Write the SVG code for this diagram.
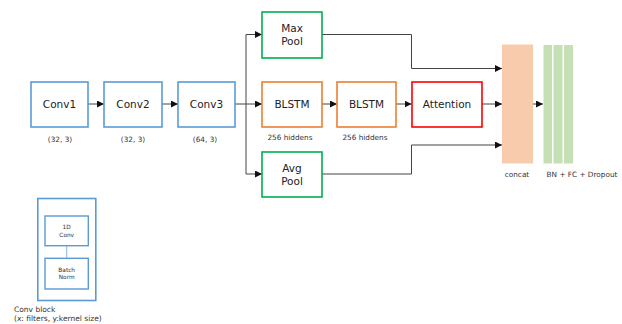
<svg xmlns="http://www.w3.org/2000/svg" width="622" height="324" viewBox="0 0 622 324">
  <style>
    text { font-family: "DejaVu Sans", Verdana, sans-serif; fill: #222; }
    .lbl { font-size: 10.5px; text-anchor: middle; }
    .sm { font-size: 7.3px; text-anchor: middle; fill: #333; }
    .tiny { font-size: 5.8px; text-anchor: middle; fill: #333; }
    .cap { font-size: 7.5px; fill: #333; }
    .box { fill: #fff; stroke-width: 1.6; }
    .blue { stroke: #5B9BD5; }
    .orange { stroke: #ED7D31; }
    .green { stroke: #00B050; }
    .red { stroke: #FF0000; }
    .wire { fill: none; stroke: #444; stroke-width: 1; }
  </style>
  <defs>
    <marker id="arr" viewBox="0 0 10 10" refX="10" refY="5" markerWidth="7" markerHeight="7" markerUnits="userSpaceOnUse" orient="auto">
      <path d="M0,0 L10,5 L0,10 z" fill="#111"/>
    </marker>
  </defs>
  <rect width="622" height="324" fill="#fff"/>

  <g id="connectors">
    <path class="wire" d="M88,104 H104" marker-end="url(#arr)"/>
    <path class="wire" d="M162,104 H178" marker-end="url(#arr)"/>
    <path class="wire" d="M235,104 H262" marker-end="url(#arr)"/>
    <path class="wire" d="M246,174 V34.5 H262" marker-end="url(#arr)"/>
    <path class="wire" d="M246,174 H262" marker-end="url(#arr)"/>
    <path class="wire" d="M322,104 H337" marker-end="url(#arr)"/>
    <path class="wire" d="M396,104 H411.5" marker-end="url(#arr)"/>
    <path class="wire" d="M482,104 H502" marker-end="url(#arr)"/>
    <path class="wire" d="M322,34.5 H411.5 V68.5 H502" marker-end="url(#arr)"/>
    <path class="wire" d="M322,174 H411.5 V145 H502" marker-end="url(#arr)"/>
    <path class="wire" d="M533,104 H543" marker-end="url(#arr)"/>
  </g>

  <g id="conv1">
    <rect class="box blue" x="31" y="82" width="57" height="45"/>
    <text class="lbl" x="59.5" y="108">Conv1</text>
    <text class="sm" x="60" y="142">(32, 3)</text>
  </g>
  <g id="conv2">
    <rect class="box blue" x="104" y="82" width="58" height="45"/>
    <text class="lbl" x="133" y="108">Conv2</text>
    <text class="sm" x="133" y="142">(32, 3)</text>
  </g>
  <g id="conv3">
    <rect class="box blue" x="178" y="82" width="57" height="45"/>
    <text class="lbl" x="206.5" y="108">Conv3</text>
    <text class="sm" x="205" y="142">(64, 3)</text>
  </g>

  <g id="maxpool">
    <rect class="box green" x="262" y="12" width="60" height="46"/>
    <text class="lbl" x="292" y="32">Max</text>
    <text class="lbl" x="292" y="45">Pool</text>
  </g>
  <g id="blstm1">
    <rect class="box orange" x="262" y="82" width="60" height="45"/>
    <text class="lbl" x="292" y="108">BLSTM</text>
    <text class="sm" x="290" y="139.5">256 hiddens</text>
  </g>
  <g id="blstm2">
    <rect class="box orange" x="337" y="82" width="59" height="45"/>
    <text class="lbl" x="366.5" y="108">BLSTM</text>
    <text class="sm" x="365" y="139.5">256 hiddens</text>
  </g>
  <g id="avgpool">
    <rect class="box green" x="262" y="152" width="60" height="45"/>
    <text class="lbl" x="292" y="172">Avg</text>
    <text class="lbl" x="292" y="185">Pool</text>
  </g>
  <g id="attention">
    <rect class="box red" x="412" y="82" width="70" height="45"/>
    <text class="lbl" x="447" y="108">Attention</text>
  </g>

  <g id="concat">
    <rect x="502" y="44.5" width="31" height="119" fill="#F8CBAD"/>
    <text class="sm" x="517" y="177">concat</text>
  </g>
  <g id="dense">
    <rect x="543.5" y="45" width="8.5" height="118.5" fill="#C5E0B4"/>
    <rect x="553.5" y="45" width="9" height="118.5" fill="#C5E0B4"/>
    <rect x="564" y="45" width="9" height="118.5" fill="#C5E0B4"/>
    <text class="sm" x="582" y="177">BN + FC + Dropout</text>
  </g>

  <g id="conv-block">
    <rect x="37.8" y="198.5" width="58" height="102" fill="#fff" stroke="#5B9BD5" stroke-width="1.6"/>
    <line x1="66.7" y1="245.7" x2="66.7" y2="258.3" stroke="#9DC3E6" stroke-width="1.2"/>
    <rect x="45" y="216" width="43.3" height="29.7" fill="#fff" stroke="#5B9BD5" stroke-width="1.4"/>
    <text class="tiny" x="66.7" y="229">1D</text>
    <text class="tiny" x="66.7" y="236.5">Conv</text>
    <rect x="45" y="258.3" width="43.3" height="30.7" fill="#fff" stroke="#5B9BD5" stroke-width="1.4"/>
    <text class="tiny" x="66.7" y="271.5">Batch</text>
    <text class="tiny" x="66.7" y="279">Norm</text>
    <text class="cap" x="14" y="312">Conv block</text>
    <text class="cap" x="14" y="320.5">(x: filters, y:kernel size)</text>
  </g>
</svg>
